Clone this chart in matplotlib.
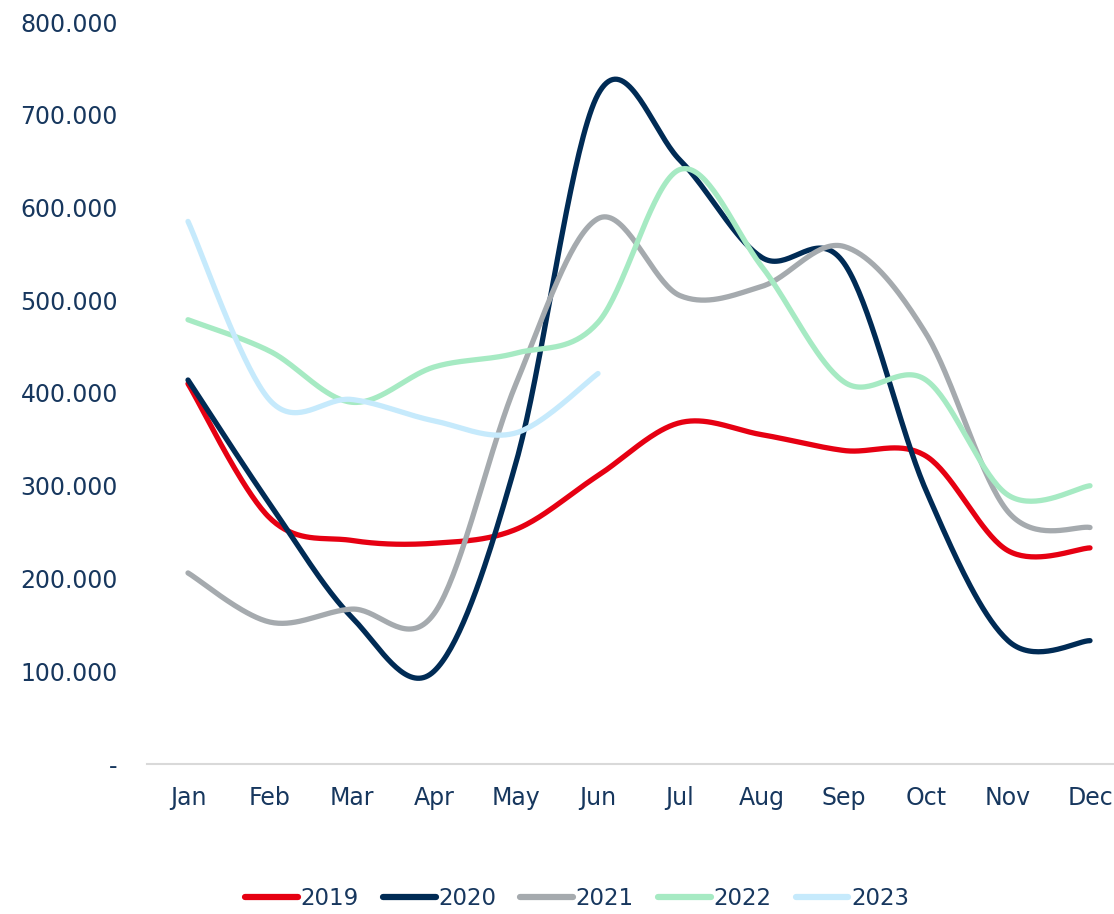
import numpy as np
import matplotlib
matplotlib.use("Agg")
import matplotlib.pyplot as plt
from matplotlib.ticker import FuncFormatter

months = ["Jan", "Feb", "Mar", "Apr", "May", "Jun",
          "Jul", "Aug", "Sep", "Oct", "Nov", "Dec"]

y2019 = [410000, 265000, 241000, 238000, 253000, 311000,
         368000, 355000, 338000, 332000, 230000, 233000]
y2020 = [414000, 280000, 158000, 100000, 325000, 722000,
         651000, 546000, 540000, 295000, 133000, 133000]
y2021 = [206000, 153000, 167000, 162000, 410000, 588000,
         505000, 515000, 558000, 464000, 272000, 255000]
y2022 = [479000, 445000, 390000, 428000, 443000, 476000,
         641000, 536000, 412000, 414000, 290000, 300000]
y2023 = [585000, 392000, 393000, 370000, 357000, 421000]

series = [("2019", y2019, "#E60012"),
          ("2020", y2020, "#002B55"),
          ("2021", y2021, "#A5AAAE"),
          ("2022", y2022, "#A6EAC3"),
          ("2023", y2023, "#C6EAFC")]

TEXT = "#17375E"


def smooth(values, n=40):
    """Cubic Bezier smoothing through every point (Catmull-Rom style)."""
    p = np.column_stack([np.arange(len(values), dtype=float),
                         np.asarray(values, dtype=float)])
    ext = np.vstack([p[0], p, p[-1]])
    xs, ys = [], []
    t = np.linspace(0, 1, n)[:, None]
    for i in range(len(p) - 1):
        p0, p1, p2, p3 = ext[i], ext[i + 1], ext[i + 2], ext[i + 3]
        c1 = p1 + (p2 - p0) / 6.0
        c2 = p2 - (p3 - p1) / 6.0
        b = ((1 - t) ** 3) * p1 + 3 * ((1 - t) ** 2) * t * c1 \
            + 3 * (1 - t) * t ** 2 * c2 + t ** 3 * p2
        xs.append(b[:, 0])
        ys.append(b[:, 1])
    return np.concatenate(xs), np.concatenate(ys)


plt.rcParams["font.family"] = ["DejaVu Sans"]

fig = plt.figure(figsize=(11.14, 9.14), dpi=100)
ax = fig.add_axes([147 / 1114, 150 / 914, 984 / 1114, 742 / 914])

for label, vals, color in series:
    sx, sy = smooth(vals)
    ax.plot(sx, sy, color=color, lw=3.8, solid_capstyle="round",
            solid_joinstyle="round", label=label)

ax.set_xlim(-0.5, 11.5)
ax.set_ylim(0, 800000)
ax.set_xticks(range(len(months)))
ax.set_xticklabels(months)
ax.set_yticks(np.arange(0, 800001, 100000))


def fmt(v, _):
    if v == 0:
        return "-"
    return f"{int(v):,}".replace(",", ".")


ax.yaxis.set_major_formatter(FuncFormatter(fmt))
ax.tick_params(axis="both", length=0, labelsize=17, labelcolor=TEXT)
ax.tick_params(axis="y", pad=21)
ax.tick_params(axis="x", pad=16)

for side in ("top", "right", "left"):
    ax.spines[side].set_visible(False)
ax.spines["bottom"].set_color("#D9D9D9")
ax.spines["bottom"].set_linewidth(1.5)

leg = fig.legend(loc="center", bbox_to_anchor=(0.518, 0.017), ncol=5,
                 frameon=False, fontsize=16.5, handlelength=2.3,
                 handletextpad=0.12, columnspacing=1.05, labelcolor=TEXT,
                 borderpad=0.2)
for h in leg.get_lines():
    h.set_linewidth(4.5)
    h.set_solid_capstyle("round")

fig.savefig("out.png", dpi=100, facecolor="white")
